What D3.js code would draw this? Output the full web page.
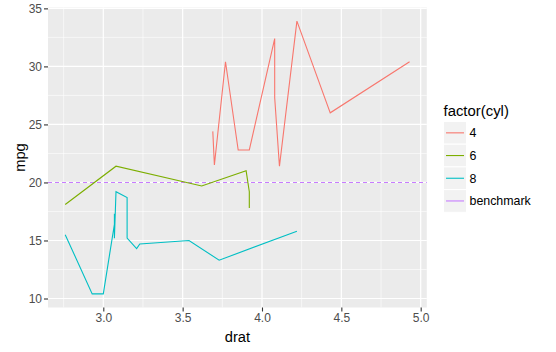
<!DOCTYPE html>
<html>
<head>
<meta charset="utf-8">
<script src="https://cdn.jsdelivr.net/npm/d3@7"></script>
<style>
  body { margin: 0; background: #fff; }
  text { font-family: "Liberation Sans", Arial, sans-serif; }
</style>
</head>
<body>
<svg id="chart"></svg>
<script>
// mtcars: drat vs mpg, grouped by cyl (sorted by drat, as geom_line does)
const drat4 = [3.69, 3.70, 3.77, 3.85, 3.92, 4.08, 4.08, 4.11, 4.22, 4.43, 4.93];
const mpg4  = [24.4, 21.5, 30.4, 22.8, 22.8, 32.4, 27.3, 21.4, 33.9, 26.0, 30.4];
const drat6 = [2.76, 3.08, 3.62, 3.90, 3.90, 3.92, 3.92];
const mpg6  = [18.1, 21.4, 19.7, 21.0, 21.0, 19.2, 17.8];
const drat8 = [2.76, 2.93, 3.00, 3.07, 3.07, 3.07, 3.08, 3.15, 3.15, 3.21, 3.23, 3.54, 3.73, 4.22];
const mpg8  = [15.5, 10.4, 10.4, 16.4, 17.3, 15.2, 19.2, 18.7, 15.2, 14.3, 14.7, 15.0, 13.3, 15.8];
const benchmark = 20;

const legendLabels = ["4", "6", "8", "benchmark"];
const colors = ["#F8766D", "#7CAE00", "#00BFC4", "#C77CFF"];
const xTicks = [3.0, 3.5, 4.0, 4.5, 5.0];
const yTicks = [10, 15, 20, 25, 30, 35];

const W = 556, H = 352;
const svg = d3.select("#chart").attr("width", W).attr("height", H);

// panel edges
const pLeft = 48, pRight = 426.8, pTop = 7.5, pBottom = 307.5;

const allX = drat4.concat(drat6, drat8);
const allY = mpg4.concat(mpg6, mpg8);
const xr = d3.extent(allX), yr = d3.extent(allY);
const xPad = (xr[1] - xr[0]) * 0.05, yPad = (yr[1] - yr[0]) * 0.05;

const x = d3.scaleLinear().domain([xr[0] - xPad, xr[1] + xPad]).range([pLeft, pRight]);
const y = d3.scaleLinear().domain([yr[0] - yPad, yr[1] + yPad]).range([pBottom, pTop]);

svg.append("rect")
    .attr("x", pLeft).attr("y", pTop)
    .attr("width", pRight - pLeft).attr("height", pBottom - pTop)
    .attr("fill", "#EBEBEB");

// grid lines
const grid = svg.append("g");
const xMinor = xTicks.map(t => t - 0.25).concat([5.25]).filter(t => t > x.domain()[0] && t < x.domain()[1]);
const yMinor = yTicks.map(t => t - 2.5).concat([37.5]).filter(t => t > y.domain()[0] && t < y.domain()[1]);

grid.selectAll(".xminor").data(xMinor).enter().append("line")
    .attr("x1", d => x(d)).attr("x2", d => x(d))
    .attr("y1", pTop).attr("y2", pBottom)
    .attr("stroke", "#fff").attr("stroke-width", 0.6);
grid.selectAll(".yminor").data(yMinor).enter().append("line")
    .attr("x1", pLeft).attr("x2", pRight)
    .attr("y1", d => y(d)).attr("y2", d => y(d))
    .attr("stroke", "#fff").attr("stroke-width", 0.6);
grid.selectAll(".xmajor").data(xTicks).enter().append("line")
    .attr("x1", d => x(d)).attr("x2", d => x(d))
    .attr("y1", pTop).attr("y2", pBottom)
    .attr("stroke", "#fff").attr("stroke-width", 1.2);
grid.selectAll(".ymajor").data(yTicks).enter().append("line")
    .attr("x1", pLeft).attr("x2", pRight)
    .attr("y1", d => y(d)).attr("y2", d => y(d))
    .attr("stroke", "#fff").attr("stroke-width", 1.2);

// data lines
const series = [
    { xs: drat4, ys: mpg4, color: colors[0] },
    { xs: drat6, ys: mpg6, color: colors[1] },
    { xs: drat8, ys: mpg8, color: colors[2] }
];
const line = d3.line().x(d => x(d[0])).y(d => y(d[1]));

svg.append("line")
    .attr("x1", pLeft).attr("x2", pRight)
    .attr("y1", y(benchmark)).attr("y2", y(benchmark))
    .attr("stroke", colors[3]).attr("stroke-width", 1.1)
    .attr("stroke-dasharray", "4,3");

svg.append("g").selectAll("path")
    .data(series)
    .enter().append("path")
    .attr("d", s => line(d3.zip(s.xs, s.ys)))
    .attr("fill", "none")
    .attr("stroke", s => s.color)
    .attr("stroke-width", 1.1);

// axes
const xAxis = svg.append("g")
    .attr("transform", `translate(0,${pBottom})`)
    .call(d3.axisBottom(x).tickValues(xTicks).tickFormat(d3.format(".1f")).tickSize(4).tickPadding(2));
const yAxis = svg.append("g")
    .attr("transform", `translate(${pLeft},0)`)
    .call(d3.axisLeft(y).tickValues(yTicks).tickSize(4).tickPadding(2));
[xAxis, yAxis].forEach(a => {
    a.select(".domain").remove();
    a.selectAll(".tick line").attr("stroke", "#333").attr("stroke-width", 1.1);
    a.selectAll(".tick text").attr("fill", "#4D4D4D")
        .style("font-size", "12px").style("font-family", "Liberation Sans, Arial, sans-serif");
});

svg.append("text")
    .attr("x", (pLeft + pRight) / 2).attr("y", 341.5)
    .attr("text-anchor", "middle")
    .style("font-size", "14.7px")
    .text("drat");

svg.append("text")
    .attr("transform", `translate(25,${(pTop + pBottom) / 2}) rotate(-90)`)
    .attr("text-anchor", "middle")
    .style("font-size", "14.7px")
    .text("mpg");

// legend
const lg = svg.append("g").attr("transform", "translate(443.5,0)");
lg.append("text")
    .attr("x", 0).attr("y", 115.5)
    .style("font-size", "14.9px")
    .text("factor(cyl)");

const keyH = 22.7, keyTop = 121.5;
const keys = lg.selectAll(".key")
    .data(legendLabels)
    .enter().append("g")
    .attr("transform", (d, i) => `translate(0,${keyTop + i * keyH})`);
keys.append("rect")
    .attr("width", 23).attr("height", keyH)
    .attr("fill", "#F2F2F2").attr("stroke", "#fff").attr("stroke-width", 1);
keys.append("line")
    .attr("x1", 2.5).attr("x2", 20.5)
    .attr("y1", keyH / 2).attr("y2", keyH / 2)
    .attr("stroke", (d, i) => colors[i]).attr("stroke-width", 1.1);
keys.append("text")
    .attr("x", 26).attr("y", keyH / 2 + 4.4)
    .style("font-size", "12.4px")
    .text(d => d);
</script>
</body>
</html>
